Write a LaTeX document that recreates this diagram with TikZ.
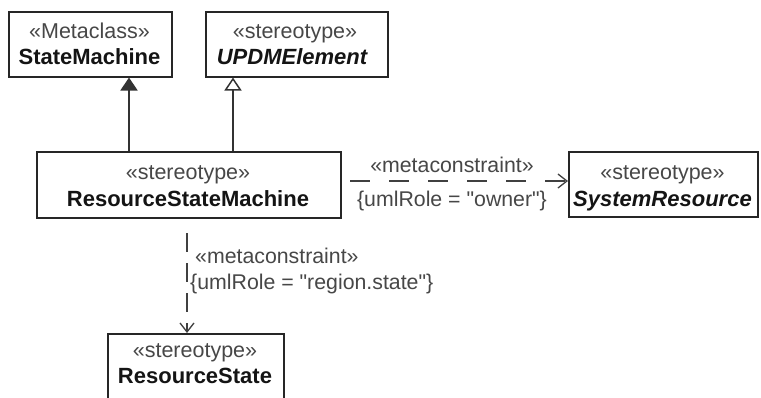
\documentclass[tikz,border=0pt]{standalone}
\usepackage{fontspec}
\setmainfont{Liberation Sans}[Ligatures=TeXOff]
\usetikzlibrary{arrows.meta,calc}
\begin{document}
\begin{tikzpicture}[x=1pt,y=-1pt,
  box/.style={draw=black!85, line width=1.5pt, inner sep=0pt, anchor=north west},
  st/.style={anchor=base, inner sep=0pt, text=black!72, font=\fontsize{21.5}{25}\selectfont},
  nm/.style={anchor=base, inner sep=0pt, text=black!92, font=\fontsize{22}{25}\selectfont\bfseries},
  nmi/.style={nm, font=\fontsize{22}{25}\selectfont\bfseries\itshape},
  lbl/.style={inner sep=0pt, text=black!72, font=\fontsize{21.3}{25}\selectfont},
  genline/.style={draw=black!80, line width=1.5pt},
  depline/.style={draw=black!75, line width=1.3pt, -{Straight Barb[length=9pt,width=14pt,line width=1.3pt]}}
]
\path[use as bounding box, fill=white] (0,0) rectangle (761,397);

% boxes
\node[box, minimum width=163pt, minimum height=65pt] (sm) at (8,11) {};
\node[st] (smst) at (89.5,38) {«Metaclass»};
\node[nm] (smnm) at (89.5,64) {StateMachine};

\node[box, minimum width=182pt, minimum height=65pt] (upd) at (205,11) {};
\node[st] (updst) at (295,38) {«stereotype»};
\node[nmi] (updnm) at (292,64) {UPDMElement};

\node[box, minimum width=304pt, minimum height=66pt] (rsm) at (36,151) {};
\node[st] (rsmst) at (188,179) {«stereotype»};
\node[nm] (rsmnm) at (188,206) {ResourceStateMachine};

\node[box, minimum width=189pt, minimum height=65pt] (sr) at (568,151) {};
\node[st] (srst) at (662.5,179) {«stereotype»};
\node[nmi] (srnm) at (662.5,206) {SystemResource};

\node[box, minimum width=176pt, minimum height=80pt] (rs) at (107,333) {};
\node[st] (rsst) at (195,357) {«stereotype»};
\node[nm] (rsnm) at (195,383) {ResourceState};

% generalizations
\draw[genline, -{Triangle[length=13pt,width=17pt]}] (129,0 |- rsm.north) -- (129,0 |- sm.south);
\draw[genline, -{Triangle[open,length=13pt,width=17pt,fill=white]}] (233,0 |- rsm.north) -- (233,0 |- upd.south);

% dependencies
\coordinate (d1s) at (350,181);
\draw[depline, dash pattern=on 20pt off 19pt] (d1s) -- (d1s -| sr.west);
\node[lbl, anchor=base] (d1a) at (452,172) {«metaconstraint»};
\node[lbl, anchor=base] (d1b) at (452,206) {\{umlRole = "owner"\}};

\coordinate (d2s) at (187,233);
\draw[depline, dash pattern=on 19pt off 11pt] (d2s) -- (d2s |- rs.north);
\node[lbl, anchor=base west] (d2a) at (195,263) {«metaconstraint»};
\node[lbl, anchor=base west] (d2b) at (190,289) {\{umlRole = "region.state"\}};
\end{tikzpicture}
\end{document}
